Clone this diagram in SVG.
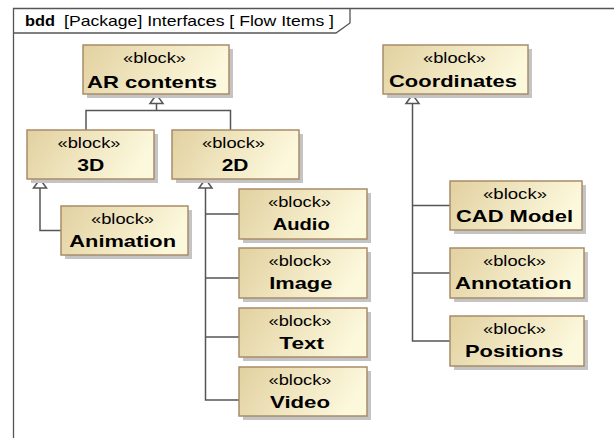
<svg xmlns="http://www.w3.org/2000/svg" width="614" height="438" viewBox="0 0 614 438">
  <defs>
    <linearGradient id="blockFill" x1="0" y1="0" x2="1" y2="0.25">
      <stop offset="0" stop-color="#e2d1a0"/>
      <stop offset="1" stop-color="#fcf8dc"/>
    </linearGradient>
    <style>
      .frame { fill: none; stroke: #555; stroke-width: 1.3; }
      .shadow { fill: #c4c4c4; }
      .box { fill: url(#blockFill); stroke: #a88c6a; stroke-width: 1.5; }
      .st { font-family: "Liberation Sans", Arial, sans-serif; font-size: 15px; fill: #000; }
      .nm { font-family: "Liberation Sans", Arial, sans-serif; font-size: 17px; font-weight: bold; fill: #000; }
      .hd { font-family: "Liberation Sans", Arial, sans-serif; font-size: 15px; fill: #000; }
      .conn { fill: none; stroke: #555; stroke-width: 1.5; }
      .gen { fill: #fff; stroke: #555; stroke-width: 1.5; }
    </style>
  </defs>
  <rect width="614" height="438" fill="#fff"/>

  <!-- diagram frame and header tab -->
  <g id="frame">
    <path class="frame" d="M13.5,438 V8.5 H614"/>
    <path class="frame" d="M13.5,33 H336 L350,23 V8.5"/>
    <text class="hd" x="25" y="25.5" font-weight="bold" textLength="30" lengthAdjust="spacingAndGlyphs">bdd</text>
    <text class="hd" x="64" y="25.5" textLength="270" lengthAdjust="spacingAndGlyphs">[Package] Interfaces [ Flow Items ]</text>
  </g>

  <!-- generalization connectors -->
  <g id="connectors">
    <path class="conn" d="M86,130 V110.5 H230.5 V130 M156.5,103.5 V110.5"/>
    <polygon class="gen" points="156.5,94.5 150,103.5 163,103.5"/>

    <path class="conn" d="M40,187.5 V230.5 H61"/>
    <polygon class="gen" points="40,179 33.5,188 46.5,188"/>

    <path class="conn" d="M205.5,188 V400 H239 M205.5,214 H239 M205.5,278 H239 M205.5,337 H239"/>
    <polygon class="gen" points="205.5,179 199,188 212,188"/>

    <path class="conn" d="M412.5,103.5 V341 H450 M412.5,205.5 H450 M412.5,273 H450"/>
    <polygon class="gen" points="412.5,94.5 406,103.5 419,103.5"/>
  </g>

  <g id="ar-contents">
    <rect class="shadow" x="87" y="49" width="146" height="49"/>
    <rect class="box" x="83" y="45" width="146" height="49"/>
    <text class="st" x="123" y="62.5" textLength="63" lengthAdjust="spacingAndGlyphs">«block»</text>
    <text class="nm" x="87" y="87.5" textLength="130" lengthAdjust="spacingAndGlyphs">AR contents</text>
  </g>

  <g id="coordinates">
    <rect class="shadow" x="387" y="49" width="145" height="49"/>
    <rect class="box" x="383" y="45" width="145" height="49"/>
    <text class="st" x="423" y="62.5" textLength="63" lengthAdjust="spacingAndGlyphs">«block»</text>
    <text class="nm" x="389" y="86.5" textLength="128" lengthAdjust="spacingAndGlyphs">Coordinates</text>
  </g>

  <g id="block-3d">
    <rect class="shadow" x="31" y="134" width="127" height="49"/>
    <rect class="box" x="27" y="130" width="127" height="49"/>
    <text class="st" x="57.5" y="147.5" textLength="63" lengthAdjust="spacingAndGlyphs">«block»</text>
    <text class="nm" x="77.3" y="171" textLength="27" lengthAdjust="spacingAndGlyphs">3D</text>
  </g>

  <g id="block-2d">
    <rect class="shadow" x="176" y="134" width="127" height="49"/>
    <rect class="box" x="172" y="130" width="127" height="49"/>
    <text class="st" x="202" y="147.5" textLength="63" lengthAdjust="spacingAndGlyphs">«block»</text>
    <text class="nm" x="221.7" y="171" textLength="26.7" lengthAdjust="spacingAndGlyphs">2D</text>
  </g>

  <g id="animation">
    <rect class="shadow" x="65" y="210" width="127" height="49"/>
    <rect class="box" x="61" y="206" width="127" height="49"/>
    <text class="st" x="91" y="223.5" textLength="63" lengthAdjust="spacingAndGlyphs">«block»</text>
    <text class="nm" x="69.3" y="247" textLength="106.7" lengthAdjust="spacingAndGlyphs">Animation</text>
  </g>

  <g id="audio">
    <rect class="shadow" x="243" y="193" width="128" height="50"/>
    <rect class="box" x="239" y="189" width="128" height="50"/>
    <text class="st" x="268" y="206.5" textLength="63" lengthAdjust="spacingAndGlyphs">«block»</text>
    <text class="nm" x="272.7" y="230" textLength="57" lengthAdjust="spacingAndGlyphs">Audio</text>
  </g>

  <g id="image">
    <rect class="shadow" x="243" y="252" width="128" height="50"/>
    <rect class="box" x="239" y="248" width="128" height="50"/>
    <text class="st" x="268.5" y="265.5" textLength="63" lengthAdjust="spacingAndGlyphs">«block»</text>
    <text class="nm" x="269.3" y="289" textLength="63" lengthAdjust="spacingAndGlyphs">Image</text>
  </g>

  <g id="text">
    <rect class="shadow" x="243" y="312" width="128" height="49"/>
    <rect class="box" x="239" y="308" width="128" height="49"/>
    <text class="st" x="268.5" y="325.5" textLength="63" lengthAdjust="spacingAndGlyphs">«block»</text>
    <text class="nm" x="279.3" y="349" textLength="44.7" lengthAdjust="spacingAndGlyphs">Text</text>
  </g>

  <g id="video">
    <rect class="shadow" x="243" y="371" width="128" height="49"/>
    <rect class="box" x="239" y="367" width="128" height="49"/>
    <text class="st" x="268.5" y="384.5" textLength="63" lengthAdjust="spacingAndGlyphs">«block»</text>
    <text class="nm" x="270" y="408" textLength="60" lengthAdjust="spacingAndGlyphs">Video</text>
  </g>

  <g id="cad-model">
    <rect class="shadow" x="454" y="185" width="132" height="49"/>
    <rect class="box" x="450" y="181" width="132" height="49"/>
    <text class="st" x="483" y="198.5" textLength="64" lengthAdjust="spacingAndGlyphs">«block»</text>
    <text class="nm" x="456" y="222" textLength="117" lengthAdjust="spacingAndGlyphs">CAD Model</text>
  </g>

  <g id="annotation">
    <rect class="shadow" x="454" y="252" width="134" height="50"/>
    <rect class="box" x="450" y="248" width="134" height="50"/>
    <text class="st" x="483" y="265.5" textLength="63" lengthAdjust="spacingAndGlyphs">«block»</text>
    <text class="nm" x="455" y="289" textLength="116.7" lengthAdjust="spacingAndGlyphs">Annotation</text>
  </g>

  <g id="positions">
    <rect class="shadow" x="454" y="320" width="134" height="50"/>
    <rect class="box" x="450" y="316" width="134" height="50"/>
    <text class="st" x="483" y="333.5" textLength="63" lengthAdjust="spacingAndGlyphs">«block»</text>
    <text class="nm" x="465" y="357" textLength="98.3" lengthAdjust="spacingAndGlyphs">Positions</text>
  </g>
</svg>
